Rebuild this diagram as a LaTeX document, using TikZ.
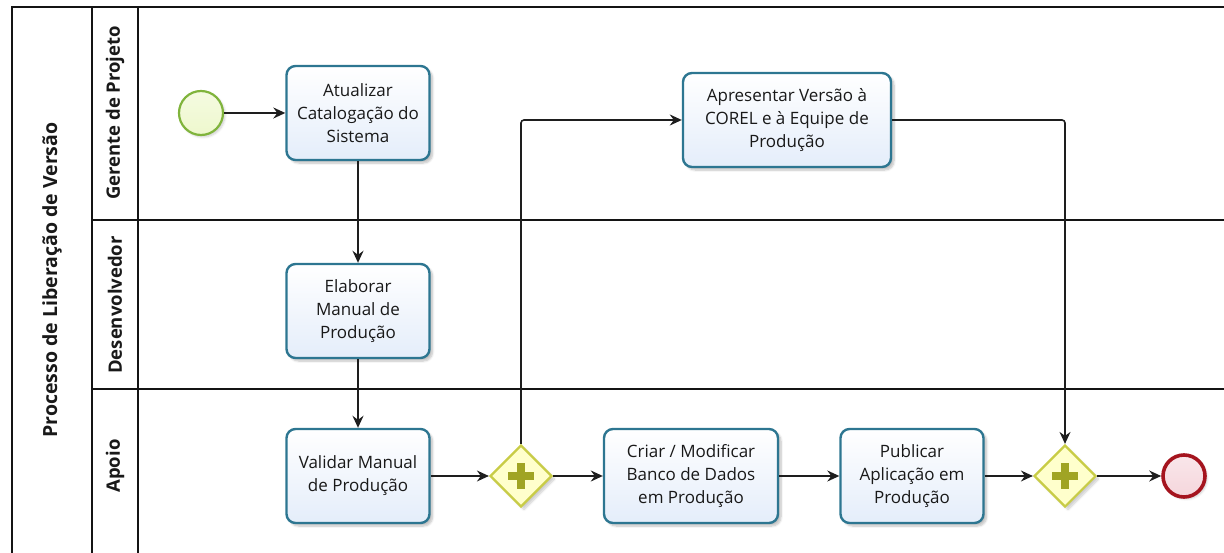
\documentclass[tikz,border=0pt]{standalone}
\usepackage{fontspec}
\setmainfont{Open Sans}
\usetikzlibrary{shapes.geometric,arrows.meta,shadows.blur}

\definecolor{taskline}{RGB}{45,118,145}
\definecolor{taskfill}{RGB}{228,237,250}
\definecolor{startline}{RGB}{128,180,60}
\definecolor{startfill}{RGB}{238,248,205}
\definecolor{endline}{RGB}{165,20,30}
\definecolor{endfill}{RGB}{245,214,220}
\definecolor{gateline}{RGB}{200,204,70}
\definecolor{gatefill}{RGB}{255,255,204}
\definecolor{gateplus}{RGB}{160,164,36}
\definecolor{flow}{RGB}{30,30,30}
\definecolor{poolline}{RGB}{20,20,20}
\definecolor{labeltext}{RGB}{25,25,25}

\tikzset{
  task/.style={draw=taskline, line width=2.4pt, rounded corners=9pt,
    top color=white, bottom color=taskfill, minimum width=143pt, minimum height=94pt,
    align=center, inner sep=2pt, text=labeltext,
    font=\fontsize{17}{23}\selectfont,
    blur shadow={shadow xshift=3pt, shadow yshift=-3pt, shadow blur steps=6, shadow opacity=25}},
  startev/.style={circle, draw=startline, line width=2.2pt, inner sep=0pt,
    minimum size=44pt, top color=startfill!60!white, bottom color=startfill,
    blur shadow={shadow xshift=2pt, shadow yshift=-2pt, shadow blur steps=5, shadow opacity=20}},
  endev/.style={circle, draw=endline, line width=3.6pt, inner sep=0pt,
    minimum size=42pt, top color=endfill!60!white, bottom color=endfill,
    blur shadow={shadow xshift=2pt, shadow yshift=-2pt, shadow blur steps=5, shadow opacity=20}},
  gate/.style={diamond, draw=gateline, line width=2.2pt, inner sep=0pt, aspect=1,
    minimum width=62pt, minimum height=62pt, fill=gatefill,
    blur shadow={shadow xshift=3pt, shadow yshift=-3pt, shadow blur steps=5, shadow opacity=20}},
  gateplus/.style={fill=gateplus},
  flowline/.style={draw=flow, line width=1.6pt,
    -{Stealth[length=12pt, width=11pt, inset=4pt]}},
  poolstroke/.style={draw=poolline, line width=1.3pt},
  lanelabel/.style={rotate=90, text=labeltext, font=\bfseries\fontsize{18.5}{22}\selectfont},
}

\begin{document}
\begin{tikzpicture}[x=1pt, y=-1pt]
  \useasboundingbox (0,0) rectangle (1224,553);

  % pool and lane frame
  \draw[poolstroke] (12,553) -- (12,7) -- (1224,7);
  \draw[poolstroke] (92,7) -- (92,553);
  \draw[poolstroke] (138,7) -- (138,553);
  \draw[poolstroke] (92,220) -- (1224,220);
  \draw[poolstroke] (92,389) -- (1224,389);

  % pool and lane titles
  \node[lanelabel, font=\bfseries\fontsize{19.5}{22}\selectfont] (pool) at (52,280) {Processo de Liberação de Versão};
  \node[lanelabel] (laneA) at (115,113) {Gerente de Projeto};
  \node[lanelabel] (laneB) at (115,305) {Desenvolvedor};
  \node[lanelabel] (laneC) at (115,466) {Apoio};

  % events and tasks
  \node[startev] (s) at (201,113) {};
  \node[task] (t1) at (358,113) {Atualizar\\Catalogação do\\Sistema};
  \node[task] (t2) at (358,311) {Elaborar\\Manual de\\Produção};
  \node[task] (t3) at (358,476) {Validar Manual\\de Produção};
  \node[gate] (g1) at (521,476) {};
  \node[task, minimum width=174pt] (t4) at (691,476) {Criar / Modificar\\Banco de Dados\\em Produção};
  \node[task] (t5) at (912,476) {Publicar\\Aplicação em\\Produção};
  \node[gate] (g2) at (1065,476) {};
  \node[endev] (e) at (1184,476) {};
  \node[task, minimum width=208pt] (t6) at (787,120) {Apresentar Versão à\\COREL e à Equipe de\\Produção};

  % parallel gateway markers
  \foreach \g in {g1,g2}{
    \fill[gateplus] ([xshift=-13pt,yshift=-4pt]\g.center) rectangle ([xshift=13pt,yshift=4pt]\g.center);
    \fill[gateplus] ([xshift=-4pt,yshift=-13pt]\g.center) rectangle ([xshift=4pt,yshift=13pt]\g.center);
  }

  % sequence flows
  \draw[flowline] (s) -- (t1);
  \draw[flowline] (t1) -- (t2);
  \draw[flowline] (t2) -- (t3);
  \draw[flowline] (t3) -- (g1);
  \draw[flowline] (g1) -- (t4);
  \draw[flowline] (t4) -- (t5);
  \draw[flowline] (t5) -- (g2);
  \draw[flowline] (g2) -- (e);
  \draw[flowline, rounded corners=3pt] (g1.north) |- (t6.west);
  \draw[flowline, rounded corners=3pt] (t6.east) -| (g2.north);
\end{tikzpicture}
\end{document}
